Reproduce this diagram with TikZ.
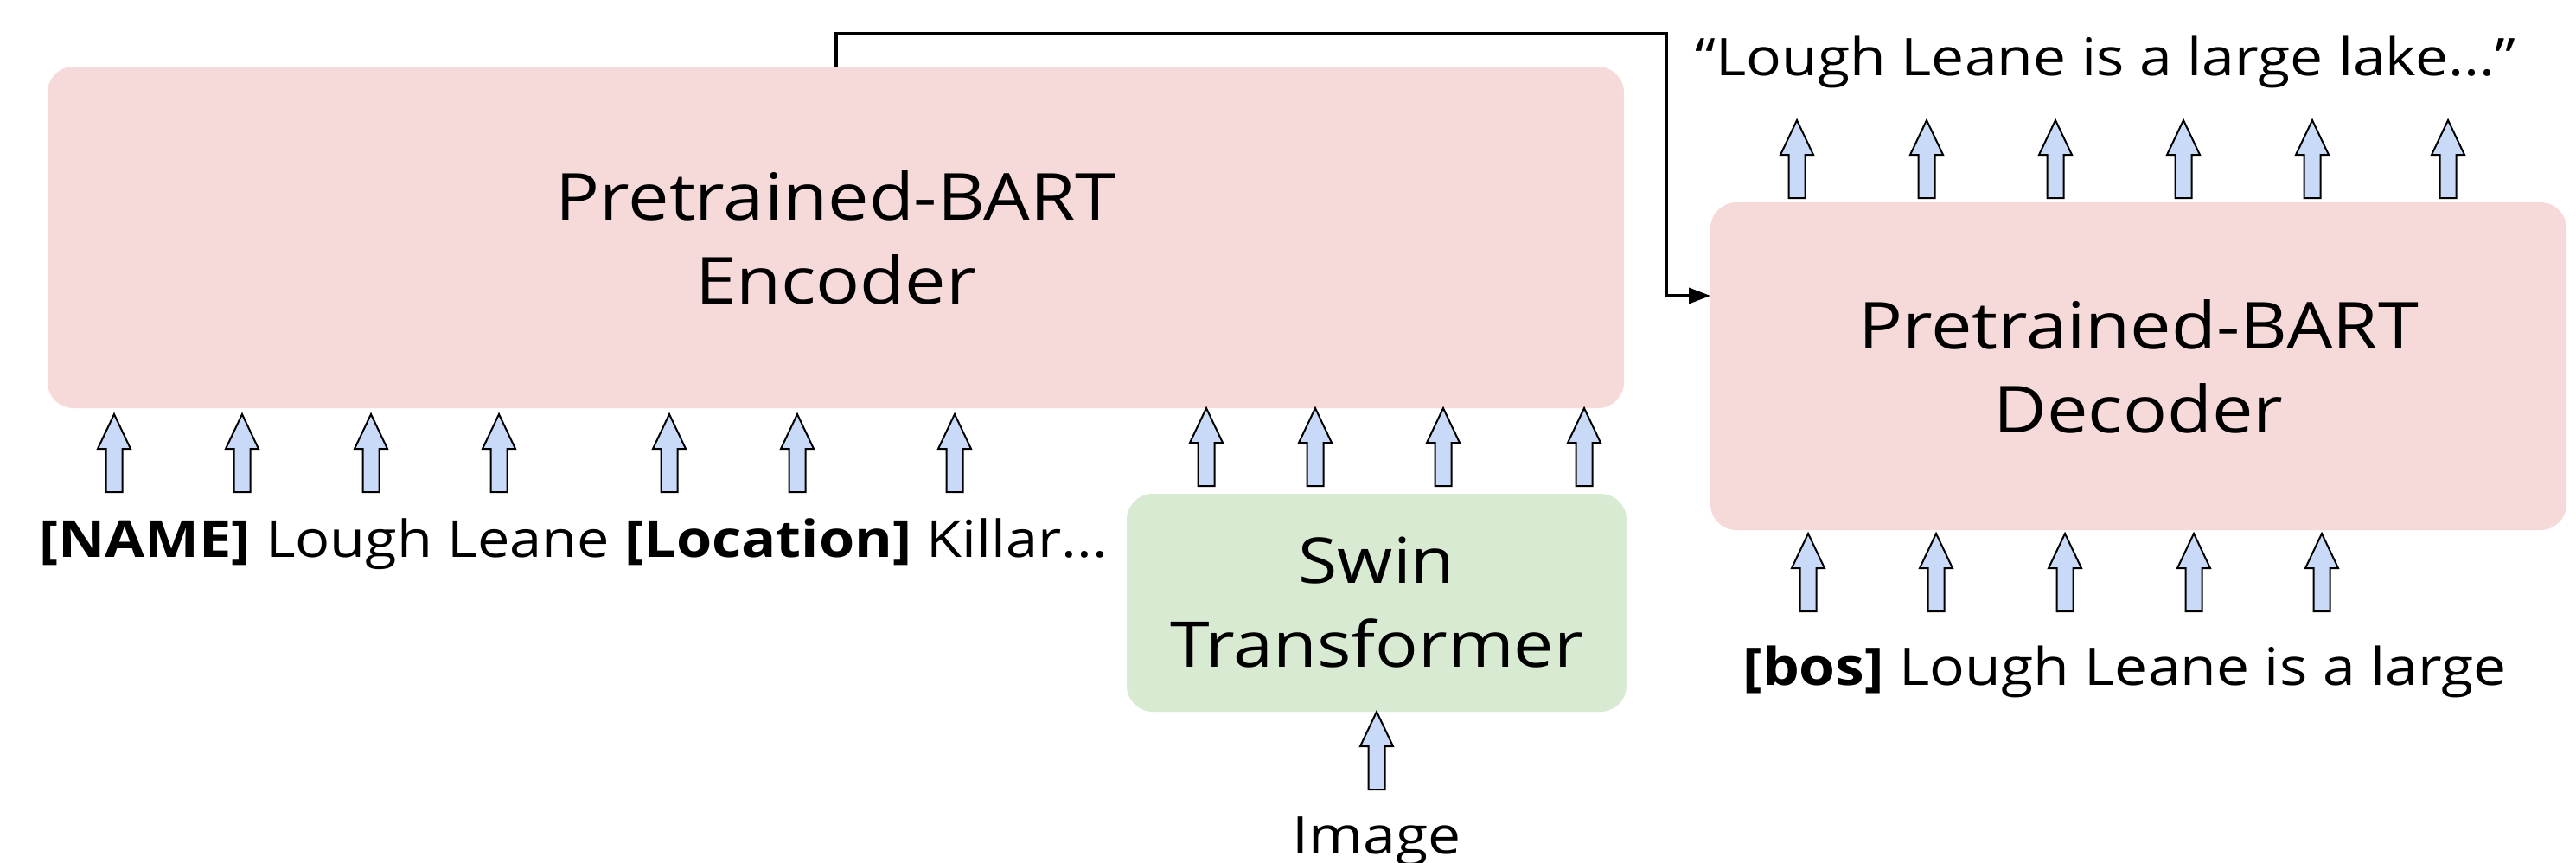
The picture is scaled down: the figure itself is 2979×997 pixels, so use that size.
\documentclass[tikz,border=0pt]{standalone}
\usepackage{fontspec}
\setmainfont{Open Sans}[FakeStretch=1.13]
\usetikzlibrary{arrows.meta}

\definecolor{encfill}{HTML}{F6DADA}
\definecolor{swinfill}{HTML}{D9EAD3}
\definecolor{arrfill}{HTML}{C9DAF8}

\tikzset{
  block/.style={rounded corners=30pt, inner sep=0pt, align=center,
    font=\fontsize{73}{97}\selectfont},
  bartbox/.style={block, fill=encfill, font=\fontsize{75}{97}\selectfont},
  swinbox/.style={block, fill=swinfill},
  tokens/.style={anchor=base, inner sep=0pt, font=\fontsize{60}{72}\selectfont},
  conn/.style={line width=3.5pt, -{Triangle[length=25pt,width=18pt]}},
  blockup/.pic={
    \draw[line width=2pt, fill=arrfill, line join=miter]
      (-9.5,0) -- (-9.5,-50) -- (-19,-50) -- (0,-90) -- (19,-50)
      -- (9.5,-50) -- (9.5,0) -- cycle;
  }
}

\begin{document}
\begin{tikzpicture}[x=1pt, y=-1pt]
\useasboundingbox (0,0) rectangle (2979,997);

% model blocks
\node[bartbox, minimum width=1823pt, minimum height=395pt] (enc) at (966.5,274.5)
  {Pretrained-BART\\Encoder};
\node[bartbox, minimum width=990pt, minimum height=379pt] (dec) at (2473,423.5)
  {Pretrained-BART\\Decoder};
\node[swinbox, minimum width=578pt, minimum height=252pt] (swin) at (1592,697)
  {Swin\\Transformer};

% texts
\node[tokens, font=\fontsize{59}{72}\selectfont] (srctext) at (663,644)
  {\textbf{[NAME]} Lough Leane \textbf{[Location]} Killar...};
\node[tokens] (img) at (1592,987) {Image};
\node[tokens] (outtext) at (2435,87) {“Lough Leane is a large lake...”};
\node[tokens] (bostext) at (2457,792) {\textbf{[bos]} Lough Leane is a large};

% encoder inputs from the text tokens
\foreach \x in {132,280,429,577,774,922,1104}
  \pic at (\x,569) {blockup};
% encoder inputs from the Swin features
\foreach \x in {1395,1521,1669,1832}
  \pic at (\x,562) {blockup};
% image into Swin
\pic at (1592,913) {blockup};
% decoder outputs
\foreach \x in {2078,2228,2377,2525,2674,2831}
  \pic at (\x,229) {blockup};
% decoder inputs
\foreach \x in {2091,2239,2388,2537,2685}
  \pic at (\x,707) {blockup};

% encoder states passed to the decoder
\coordinate (src) at (967,77);
\coordinate (bend) at (1927,39);
\coordinate (dst) at (1978,342);
\draw[conn] (src) |- (bend) |- (dst);
\end{tikzpicture}
\end{document}
